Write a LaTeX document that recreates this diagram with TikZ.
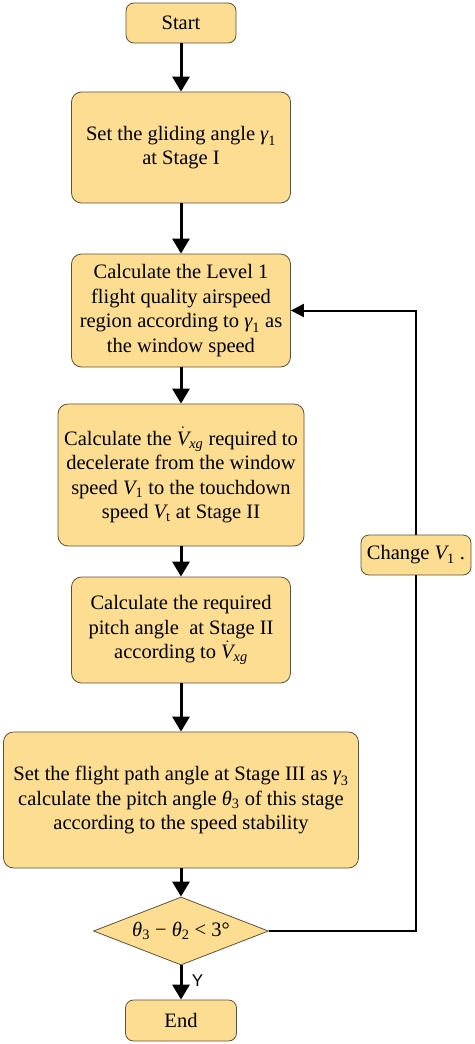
\documentclass[tikz,border=0pt]{standalone}
\usepackage{fontspec}
\usepackage{amsmath}
\setmainfont{Liberation Serif}
\newfontfamily\ysans{Liberation Sans}
\usetikzlibrary{arrows.meta,shapes.geometric}
\definecolor{boxfill}{RGB}{252,221,146}
\definecolor{boxline}{RGB}{95,82,58}
\newcommand\mv[2]{\ensuremath{\text{\itshape #1}_{\text{#2}}}}
\newcommand\vdotxg{\ensuremath{\dot{\text{\itshape V}}_{\text{\itshape xg}}}}
\begin{document}
\begin{tikzpicture}[x=1pt,y=-1pt,
  box/.style={draw=boxline, line width=0.8pt, fill=boxfill, rounded corners=10pt,
    inner sep=0pt, align=center, font=\fontsize{20.5}{24.5}\selectfont},
  flow/.style={line width=3pt, -{Triangle[width=17pt,length=15pt]}},
  back/.style={line width=2pt},
  backarrow/.style={line width=2pt, -{Triangle[width=13pt,length=13pt]}}]
\useasboundingbox (0,0) rectangle (474,1044);
\node[box, minimum width=110pt, minimum height=40pt, rounded corners=8pt] (start) at (181,23) {Start};
\node[box, minimum width=219pt, minimum height=111pt] (b2) at (181,147.5)
  {Set the gliding angle \mv{γ}{1}\\at Stage I};
\node[box, minimum width=219pt, minimum height=113pt] (b3) at (181,310.5)
  {Calculate the Level 1\\flight quality airspeed\\region according to \mv{γ}{1} as\\the window speed};
\node[box, minimum width=246pt, minimum height=142pt] (b4) at (181,475)
  {Calculate the \vdotxg{} required to\\decelerate from the window\\speed \mv{V}{1} to the touchdown\\speed \mv{V}{t} at Stage II};
\node[box, minimum width=219pt, minimum height=106pt] (b5) at (181,630)
  {Calculate the required\\pitch angle \ at Stage II\\according to \vdotxg};
\node[box, minimum width=355pt, minimum height=136pt] (b6) at (181,800)
  {Set the flight path angle at Stage III as \mv{γ}{3}\\calculate the pitch angle \mv{θ}{3} of this stage\\according to the speed stability};
\node[box, diamond, rounded corners=0pt, aspect=2.57, minimum width=175pt, minimum height=68pt] (dec) at (181,931)
  {\mv{θ}{3} − \mv{θ}{2} < 3°};
\node[box, minimum width=111pt, minimum height=41pt, rounded corners=8pt] (end) at (181,1020.5) {End};
\node[box, minimum width=110pt, minimum height=40pt, rounded corners=8pt] (chg) at (416,555)
  {Change \mv{V}{1} .};
\draw[flow] (start) -- (b2);
\draw[flow] (b2) -- (b3);
\draw[flow] (b3) -- (b4);
\draw[flow] (b4) -- (b5);
\draw[flow] (b5) -- (b6);
\draw[flow] (b6) -- (dec);
\draw[flow] (dec) -- node[pos=0.45, right, xshift=6pt, font=\ysans\fontsize{17}{17}\selectfont] (ylab) {Y} (end);
\draw[back] (dec.east) -| (chg.south);
\draw[backarrow] (chg.north) |- (b3.east);
\end{tikzpicture}
\end{document}
